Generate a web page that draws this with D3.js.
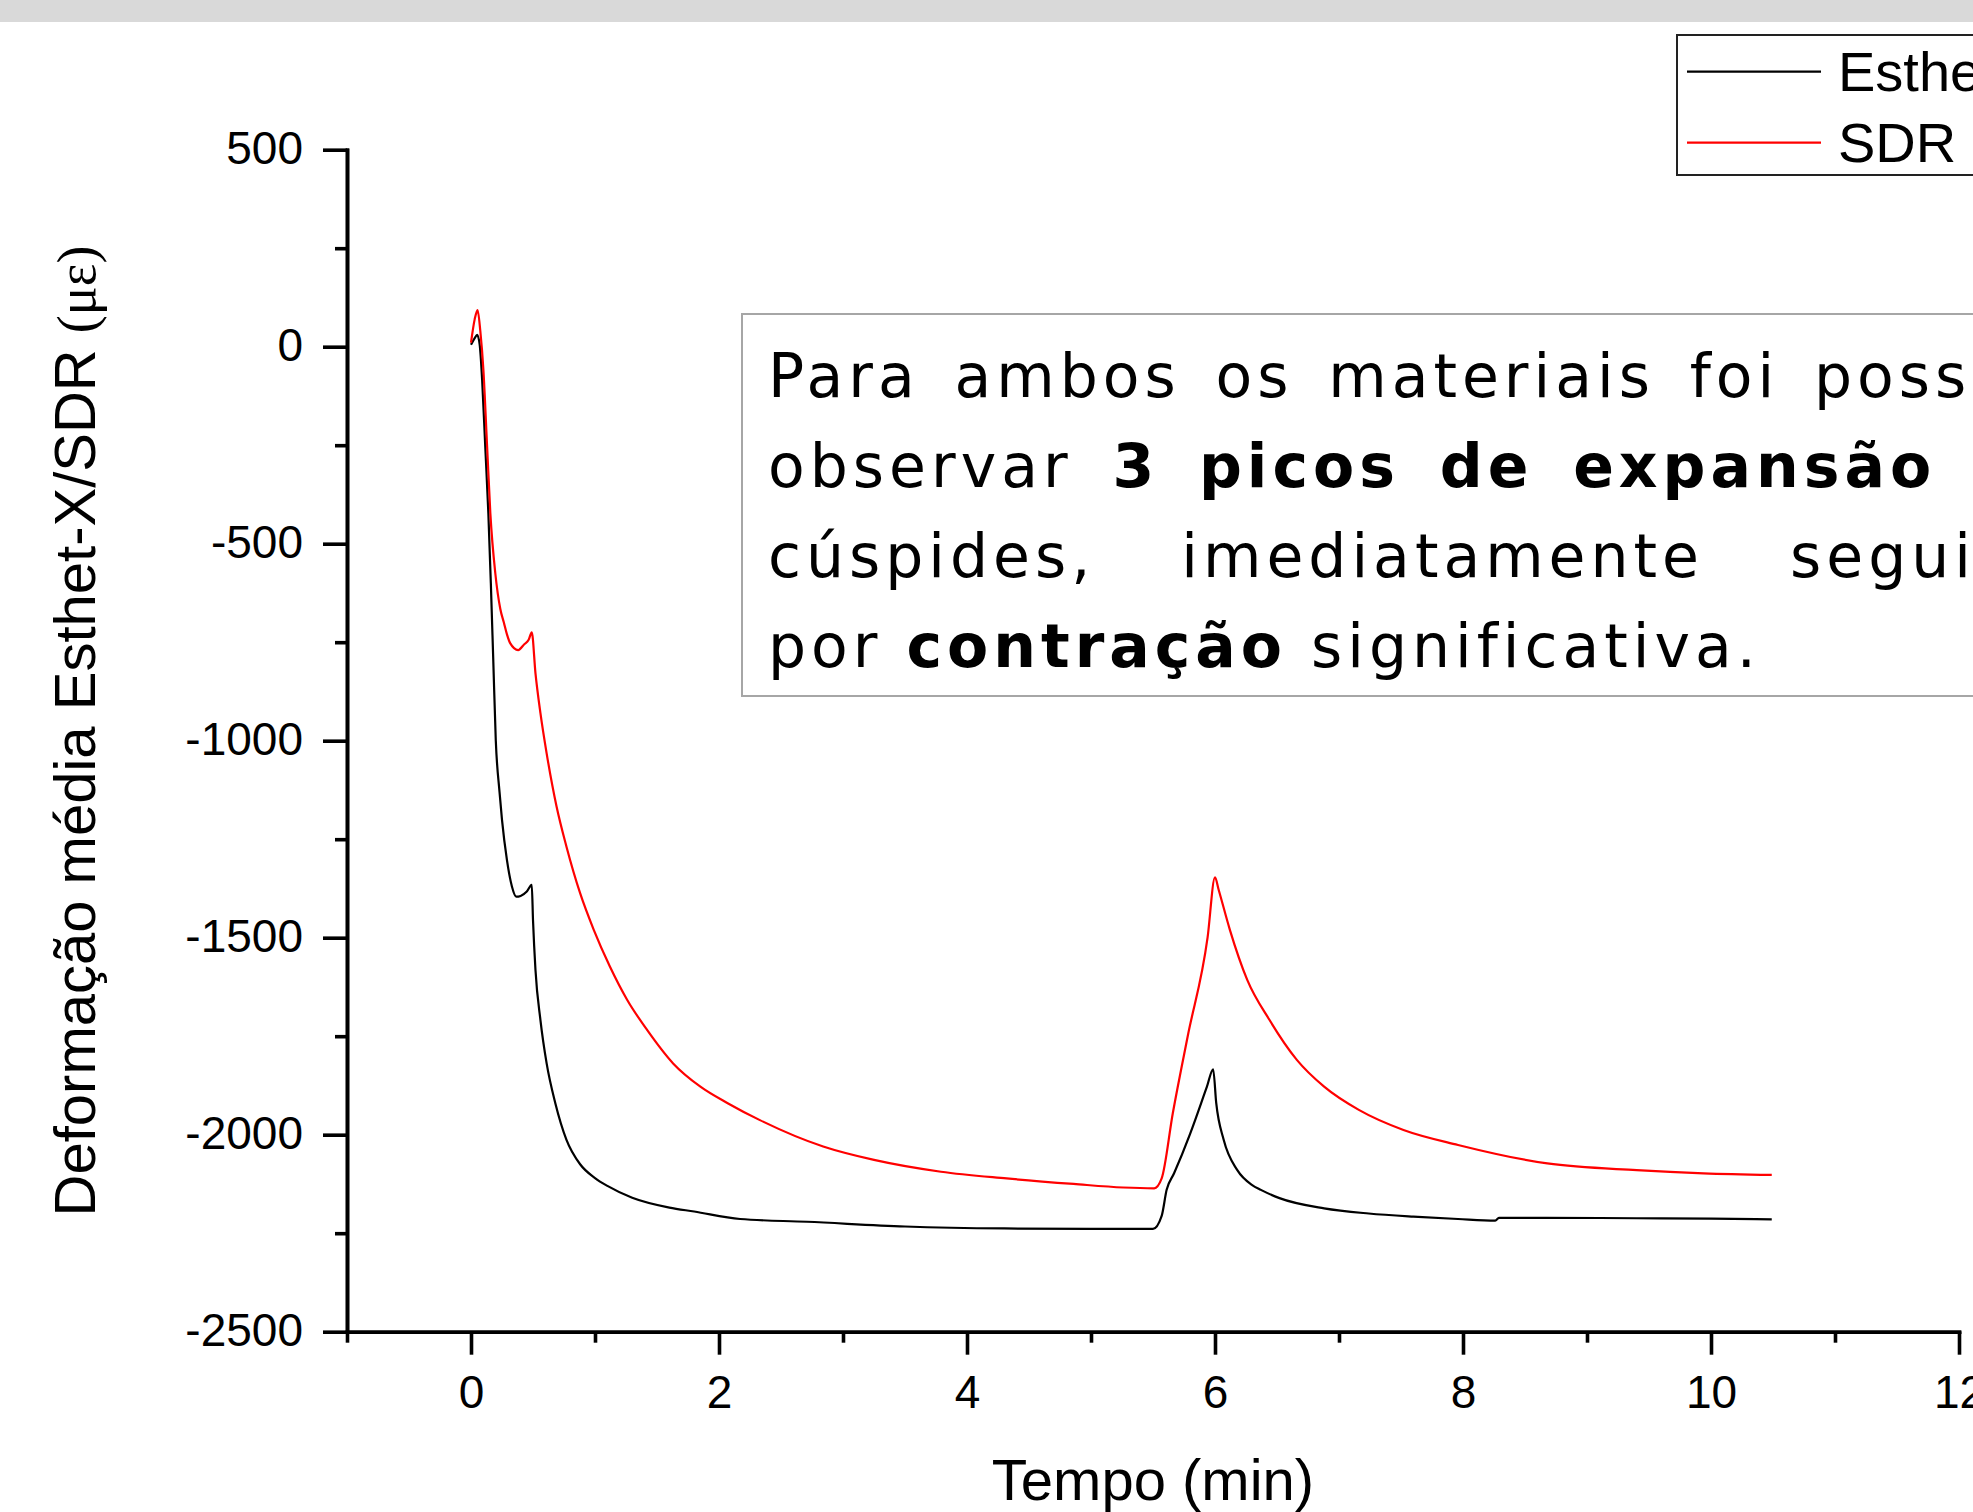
<!DOCTYPE html>
<html>
<head>
<meta charset="utf-8">
<script src="https://cdn.jsdelivr.net/npm/d3@7"></script>
<style>
  html, body { margin: 0; padding: 0; background: #fff; overflow: hidden; }
  svg { display: block; }
  .axis path, .axis line { stroke: #000; stroke-width: 3.6px; }
  .axis text { font-family: "Liberation Sans", Arial, sans-serif; font-size: 46px; fill: #000; }
  .axis-title { font-family: "Liberation Sans", Arial, sans-serif; font-size: 58px; fill: #000; }
  .note text { font-family: "DejaVu Sans", sans-serif; font-size: 60px; letter-spacing: 5px; fill: #000; }
</style>
</head>
<body>
<svg id="chart" width="1973" height="1512"></svg>
<script>
// series (time in min, strain in microstrain)
const seriesNames = ['Esthet-X', 'SDR'];
const seriesColors = ['#000000', '#ff0000'];

const timeEsthet = [0.00, 0.03, 0.05, 0.07, 0.09, 0.115, 0.14, 0.16, 0.18, 0.20, 0.23, 0.25, 0.29, 0.33, 0.365,
  0.40, 0.45, 0.49, 0.50, 0.52, 0.56, 0.61, 0.68, 0.77, 0.88, 1.0, 1.1, 1.3, 1.6, 1.8, 2.17, 2.71, 3.5, 4.3,
  5.0, 5.5, 5.57, 5.61, 5.67, 5.80, 5.935, 5.985, 6.01, 6.07, 6.18, 6.30, 6.37, 6.52, 6.88, 7.24, 7.6, 7.96,
  8.26, 8.29, 8.67, 9.4, 10.0, 10.49];
const strainEsthet = [5, 22, 30, 5, -85, -254, -423, -600, -800, -1000, -1130, -1201, -1303, -1370, -1396,
  -1394, -1383, -1366, -1455, -1582, -1709, -1819, -1920, -2013, -2075, -2110, -2130, -2160, -2185, -2195, -2214, -2221, -2233, -2238,
  -2239, -2239, -2206, -2140, -2098, -1997, -1878, -1834, -1920, -2013, -2090, -2128, -2140, -2161, -2187, -2200, -2208, -2214,
  -2218, -2211, -2211, -2212, -2213, -2215];

const timeSdr = [0.00, 0.03, 0.053, 0.075, 0.10, 0.13, 0.156, 0.196, 0.236, 0.265, 0.29, 0.317, 0.38, 0.43, 0.465,
  0.49, 0.52, 0.56, 0.61, 0.69, 0.77, 0.88, 0.99, 1.12, 1.26, 1.42, 1.63, 1.85, 2.07, 2.33, 2.84, 3.25, 3.79,
  4.32, 4.86, 5.26, 5.51, 5.57, 5.66, 5.78, 5.94, 6.00, 6.03, 6.12, 6.26, 6.44, 6.66, 6.88, 7.16, 7.52, 7.96,
  8.68, 9.4, 9.94, 10.49];
const strainSdr = [10, 70, 93, 40, -59, -254, -423, -575, -665, -700, -730, -753, -770, -755, -744,
  -725, -829, -930, -1032, -1167, -1269, -1387, -1480, -1573, -1658, -1734, -1819, -1878, -1920, -1963, -2030, -2064, -2094,
  -2111, -2125, -2134, -2136, -2111, -1945, -1750, -1500, -1347, -1379, -1480, -1607, -1709, -1810, -1878, -1937, -1988, -2026,
  -2073, -2090, -2098, -2102];

const xTicksMajor = [0, 2, 4, 6, 8, 10, 12];
const xTicksMinor = [-1, 1, 3, 5, 7, 9, 11];
const yTicksMajor = [500, 0, -500, -1000, -1500, -2000, -2500];
const yTicksMinor = [250, -250, -750, -1250, -1750, -2250];

const xTitle = 'Tempo (min)';
const yTitle = 'Deformação média Esthet-X/SDR ';
const yUnit = '(με)';

// annotation box text, word by word (bold = indexes of bold words)
const noteLines = [
  {words: ['Para', 'ambos', 'os', 'materiais', 'foi', 'possível'], bold: []},
  {words: ['observar', '3', 'picos', 'de', 'expansão', 'nas'], bold: [1, 2, 3, 4]},
  {words: ['cúspides,', 'imediatamente', 'seguidos'], bold: []},
  {words: ['por', 'contração', 'significativa.'], bold: [1], last: true}
];

const svg = d3.select('#chart');

svg.append('rect').attr('x', 0).attr('y', 0).attr('width', 1973).attr('height', 22).attr('fill', '#d9d9d9');

const margin = {left: 347, top: 149.7, right: 1959, bottom: 1331.7};
const x = d3.scaleLinear().domain([-1, 12]).range([margin.left, margin.right]);
const y = d3.scaleLinear().domain([-2500, 500]).range([margin.bottom, margin.top]);
const plain = d => String(d);   // hyphen minus, like the original

// x axis: major ticks with labels, minor ticks without
svg.append('g').attr('class', 'axis').attr('transform', 'translate(0,' + margin.bottom + ')')
  .call(d3.axisBottom(x).tickValues(xTicksMinor).tickSize(11).tickSizeOuter(0).tickFormat(''));
svg.append('g').attr('class', 'axis x-axis').attr('transform', 'translate(0,' + margin.bottom + ')')
  .call(d3.axisBottom(x).tickValues(xTicksMajor).tickSize(23).tickSizeOuter(0).tickPadding(21).tickFormat(plain));

// y axis
svg.append('g').attr('class', 'axis').attr('transform', 'translate(' + margin.left + ',0)')
  .call(d3.axisLeft(y).tickValues(yTicksMinor).tickSize(12).tickSizeOuter(0).tickFormat(''));
svg.append('g').attr('class', 'axis y-axis').attr('transform', 'translate(' + margin.left + ',0)')
  .call(d3.axisLeft(y).tickValues(yTicksMajor).tickSize(24).tickSizeOuter(0).tickPadding(20).tickFormat(plain));

svg.selectAll('.y-axis text').attr('dy', '0.29em');
svg.selectAll('.x-axis text').attr('dy', '0.71em');
svg.selectAll('.axis .domain').attr('stroke-linecap', 'square');

// axis titles
svg.append('text').attr('class', 'axis-title')
  .attr('text-anchor', 'middle')
  .attr('x', (margin.left + margin.right) / 2).attr('y', 1500)
  .text(xTitle);

const yt = svg.append('text').attr('class', 'axis-title')
  .attr('text-anchor', 'middle')
  .attr('font-size', 56)
  .attr('transform', 'translate(95,731)rotate(-90)');
yt.append('tspan').text(yTitle);
yt.append('tspan').attr('font-family', '"Liberation Serif", "DejaVu Serif", serif').attr('font-size', 54).text(yUnit);

// curves
const line = d3.line().curve(d3.curveMonotoneX).x(d => x(d[0])).y(d => y(d[1]));
const series = [
  {name: seriesNames[0], color: seriesColors[0], values: d3.zip(timeEsthet, strainEsthet)},
  {name: seriesNames[1], color: seriesColors[1], values: d3.zip(timeSdr, strainSdr)}
];
svg.selectAll('.curve').data(series).enter().append('path')
  .attr('class', 'curve')
  .attr('fill', 'none')
  .attr('stroke', d => d.color)
  .attr('stroke-width', 2.2)
  .attr('stroke-linejoin', 'round')
  .attr('d', d => line(d.values));

// legend (cut by the right edge like the original)
const legend = svg.append('g');
legend.append('rect').attr('x', 1677).attr('y', 35).attr('width', 420).attr('height', 140)
  .attr('fill', '#fff').attr('stroke', '#222').attr('stroke-width', 2);
series.forEach((s, i) => {
  const ly = 71.7 + i * 71;
  legend.append('line').attr('x1', 1687).attr('x2', 1821).attr('y1', ly).attr('y2', ly)
    .attr('stroke', s.color).attr('stroke-width', 2.2);
  legend.append('text')
    .attr('x', 1838).attr('y', ly + 19)
    .attr('font-family', '"Liberation Sans", Arial, sans-serif')
    .attr('font-size', 56)
    .text(s.name);
});

// annotation box with justified text
const note = svg.append('g').attr('class', 'note');
note.append('rect').attr('x', 742).attr('y', 314).attr('width', 1400).attr('height', 382)
  .attr('fill', '#fff').attr('stroke', '#a6a6a6').attr('stroke-width', 2);

const textLeft = 768, textRight = 2097;
noteLines.forEach((ln, li) => {
  const baseline = 396.7 + li * 90;
  const nodes = ln.words.map((w, wi) => note.append('text')
    .attr('y', baseline)
    .attr('font-weight', ln.bold.indexOf(wi) >= 0 ? 'bold' : 'normal')
    .text(w));
  const widths = nodes.map(n => n.node().getComputedTextLength());
  const total = d3.sum(widths);
  const gap = ln.last ? 24 : (textRight - textLeft - total) / (ln.words.length - 1);
  let cx = textLeft;
  nodes.forEach((n, i) => { n.attr('x', cx); cx += widths[i] + gap; });
});
</script>
</body>
</html>
